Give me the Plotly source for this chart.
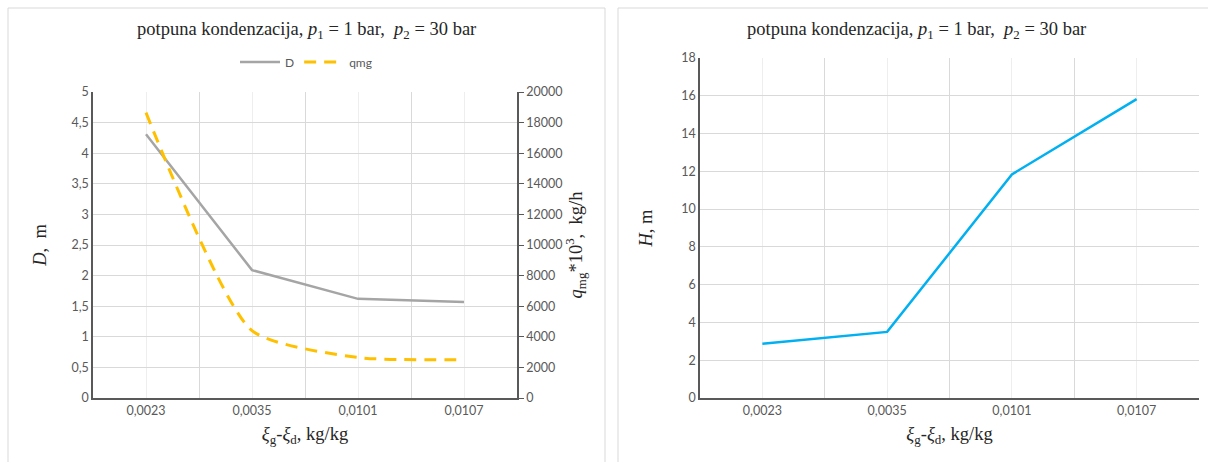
import plotly.graph_objects as go

categories = ["0,0023", "0,0035", "0,0101", "0,0107"]
D_values = [4.31, 2.09, 1.62, 1.57]
qmg_values = [18650, 4400, 2650, 2500]
H_values = [2.87, 3.5, 11.84, 15.82]

W, Hh = 1208, 462
L, R, T, B = 93, 1199, 58, 398   # plot-area box in pixels
xpos = list(range(len(categories)))

title_txt = "potpuna kondenzacija, <i>p</i><sub>1</sub> = 1 bar,  <i>p</i><sub>2</sub> = 30 bar"
serif = "Liberation Serif"
tickfont = dict(family="Lato", size=12.5, color="#595959")
grid = "#D9D9D9"
axcol = "#595959"
tcol = "#262626"

fig = go.Figure()
fig.add_trace(go.Scatter(x=xpos, y=D_values, name="D", mode="lines",
                         line=dict(color="#A5A5A5", width=2.5), xaxis="x", yaxis="y"))
fig.add_trace(go.Scatter(x=xpos, y=qmg_values, name="qmg", mode="lines",
                         line=dict(color="#FFC000", width=3, dash="12px,8px", shape="spline", smoothing=0.6),
                         xaxis="x", yaxis="y2"))
fig.add_trace(go.Scatter(x=xpos, y=H_values, name="H", mode="lines", showlegend=False,
                         line=dict(color="#00B0F0", width=2.5), xaxis="x2", yaxis="y3"))

def px(v):
    return (v - L) / (R - L)

def py(v):
    return (B - v) / (B - T)

xcommon = dict(tickvals=xpos, ticktext=categories, range=[-0.5, len(categories) - 0.5],
               showgrid=True, gridcolor="#EEEEEE", zeroline=False,
               showline=True, linecolor=axcol, linewidth=1.5, ticks="",
               tickfont=tickfont, automargin=False,
               minor=dict(tickvals=[i + 0.5 for i in xpos], showgrid=True, gridcolor=grid, ticks=""),
               title=dict(text="<i>ξ</i><sub>g</sub>-<i>ξ</i><sub>d</sub>, kg/kg",
                          font=dict(family=serif, size=18.5, color=tcol), standoff=10))

fig.update_layout(
    template="plotly_white",
    width=W, height=Hh, margin=dict(l=L, r=W - R, t=T, b=Hh - B, pad=0),
    paper_bgcolor="white", plot_bgcolor="white",
    showlegend=True,
    legend=dict(orientation="h", x=px(306), y=py(62), xanchor="center", yanchor="middle",
                font=dict(family="Lato", size=12, color="#595959"), itemwidth=40),
    xaxis=dict(domain=[0, px(517)], anchor="y", **xcommon),
    yaxis=dict(domain=[0, py(92)], range=[0, 5], dtick=0.5, automargin=False,
               showgrid=True, gridcolor=grid, zeroline=False,
               showline=True, linecolor=axcol, linewidth=1.5, ticks="", tickfont=tickfont,
               title=dict(text="<i>D</i>,  m", font=dict(family=serif, size=18.5, color=tcol), standoff=20)),
    yaxis2=dict(overlaying="y", side="right", anchor="x", range=[0, 20000], dtick=2000, tickformat="d",
                automargin=False,
                showgrid=False, zeroline=False, showline=True, linecolor=axcol, linewidth=1.5,
                ticks="outside", ticklen=5, tickcolor=axcol, tickfont=tickfont,
                title=dict(text="<i>q</i><sub>mg</sub>*10<sup>3</sup>,  kg/h",
                           font=dict(family=serif, size=18.5, color=tcol), standoff=6)),
    xaxis2=dict(domain=[px(700), 1], anchor="y3", **xcommon),
    yaxis3=dict(domain=[0, 1], anchor="x2", range=[0, 18], dtick=2, automargin=False,
                showgrid=True, gridcolor=grid, zeroline=False,
                showline=True, linecolor=axcol, linewidth=1.5, ticks="", tickfont=tickfont,
                title=dict(text="<i>H</i>, m", font=dict(family=serif, size=18.5, color=tcol), standoff=24)),
    separators=", ",
    annotations=[
        dict(text=title_txt, x=px(306), y=py(30), xref="paper", yref="paper", showarrow=False,
             xanchor="center", yanchor="middle", font=dict(family=serif, size=18.5, color=tcol)),
        dict(text=title_txt, x=px(916), y=py(30), xref="paper", yref="paper", showarrow=False,
             xanchor="center", yanchor="middle", font=dict(family=serif, size=18.5, color=tcol)),
    ],
    shapes=[
        dict(type="rect", xref="paper", yref="paper", x0=px(8), x1=px(605), y0=py(470), y1=py(8),
             line=dict(color=grid, width=1), layer="below"),
        dict(type="rect", xref="paper", yref="paper", x0=px(618), x1=px(1215), y0=py(470), y1=py(8),
             line=dict(color=grid, width=1), layer="below"),
    ],
)

fig.write_html("out.html", config={"displayModeBar": False},
               post_script="document.body.style.margin='0';document.body.style.overflow='hidden';")
